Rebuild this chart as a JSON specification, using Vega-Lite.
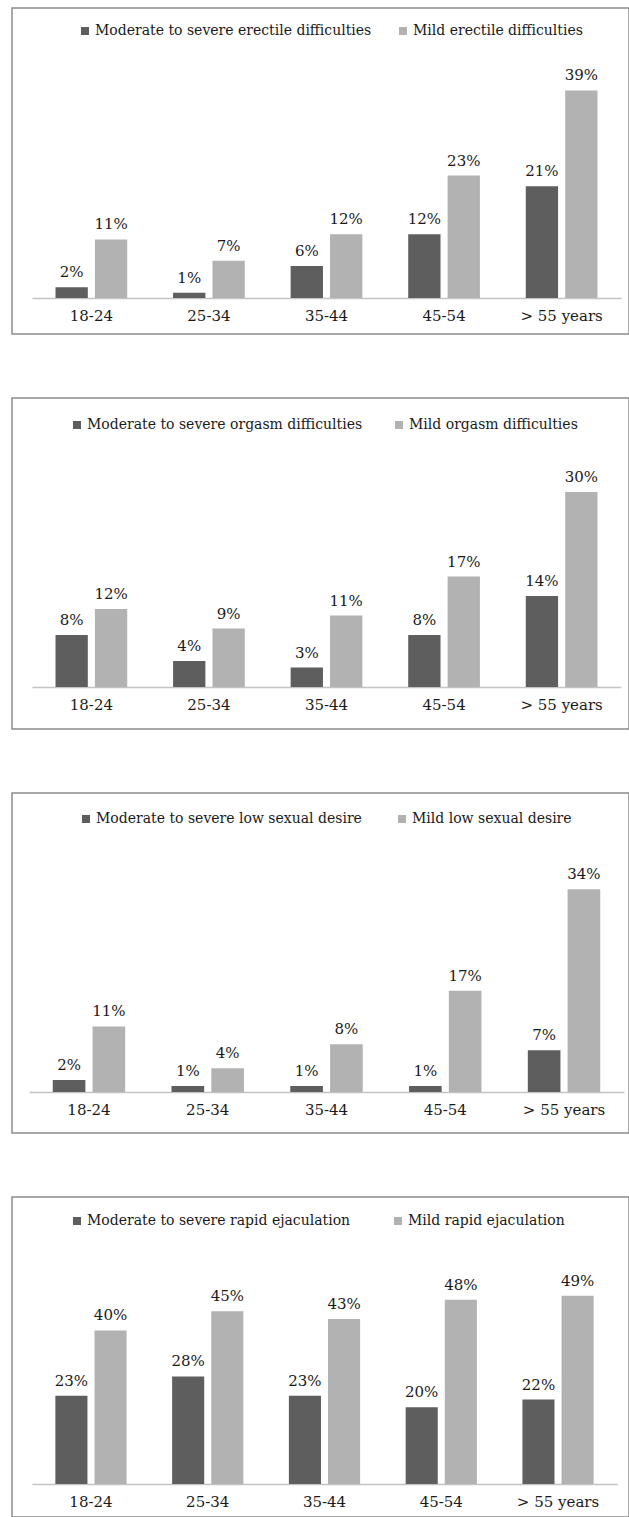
{
  "$schema": "https://vega.github.io/schema/vega-lite/v6.json",
  "padding": {"left": 11, "top": 7, "right": 0, "bottom": 0},
  "bounds": "flush",
  "spacing": 64,
  "background": "white",
  "datasets": {
    "p1": [
      {"age": "18-24", "sev": "Moderate to severe erectile difficulties", "v": 2},
      {"age": "25-34", "sev": "Moderate to severe erectile difficulties", "v": 1},
      {"age": "35-44", "sev": "Moderate to severe erectile difficulties", "v": 6},
      {"age": "45-54", "sev": "Moderate to severe erectile difficulties", "v": 12},
      {"age": "> 55 years", "sev": "Moderate to severe erectile difficulties", "v": 21},
      {"age": "18-24", "sev": "Mild erectile difficulties", "v": 11},
      {"age": "25-34", "sev": "Mild erectile difficulties", "v": 7},
      {"age": "35-44", "sev": "Mild erectile difficulties", "v": 12},
      {"age": "45-54", "sev": "Mild erectile difficulties", "v": 23},
      {"age": "> 55 years", "sev": "Mild erectile difficulties", "v": 39}
    ],
    "p2": [
      {"age": "18-24", "sev": "Moderate to severe orgasm difficulties", "v": 8},
      {"age": "25-34", "sev": "Moderate to severe orgasm difficulties", "v": 4},
      {"age": "35-44", "sev": "Moderate to severe orgasm difficulties", "v": 3},
      {"age": "45-54", "sev": "Moderate to severe orgasm difficulties", "v": 8},
      {"age": "> 55 years", "sev": "Moderate to severe orgasm difficulties", "v": 14},
      {"age": "18-24", "sev": "Mild orgasm difficulties", "v": 12},
      {"age": "25-34", "sev": "Mild orgasm difficulties", "v": 9},
      {"age": "35-44", "sev": "Mild orgasm difficulties", "v": 11},
      {"age": "45-54", "sev": "Mild orgasm difficulties", "v": 17},
      {"age": "> 55 years", "sev": "Mild orgasm difficulties", "v": 30}
    ],
    "p3": [
      {"age": "18-24", "sev": "Moderate to severe low sexual desire", "v": 2},
      {"age": "25-34", "sev": "Moderate to severe low sexual desire", "v": 1},
      {"age": "35-44", "sev": "Moderate to severe low sexual desire", "v": 1},
      {"age": "45-54", "sev": "Moderate to severe low sexual desire", "v": 1},
      {"age": "> 55 years", "sev": "Moderate to severe low sexual desire", "v": 7},
      {"age": "18-24", "sev": "Mild low sexual desire", "v": 11},
      {"age": "25-34", "sev": "Mild low sexual desire", "v": 4},
      {"age": "35-44", "sev": "Mild low sexual desire", "v": 8},
      {"age": "45-54", "sev": "Mild low sexual desire", "v": 17},
      {"age": "> 55 years", "sev": "Mild low sexual desire", "v": 34}
    ],
    "p4": [
      {"age": "18-24", "sev": "Moderate to severe rapid ejaculation", "v": 23},
      {"age": "25-34", "sev": "Moderate to severe rapid ejaculation", "v": 28},
      {"age": "35-44", "sev": "Moderate to severe rapid ejaculation", "v": 23},
      {"age": "45-54", "sev": "Moderate to severe rapid ejaculation", "v": 20},
      {"age": "> 55 years", "sev": "Moderate to severe rapid ejaculation", "v": 22},
      {"age": "18-24", "sev": "Mild rapid ejaculation", "v": 40},
      {"age": "25-34", "sev": "Mild rapid ejaculation", "v": 45},
      {"age": "35-44", "sev": "Mild rapid ejaculation", "v": 43},
      {"age": "45-54", "sev": "Mild rapid ejaculation", "v": 48},
      {"age": "> 55 years", "sev": "Mild rapid ejaculation", "v": 49}
    ]
  },
  "config": {
    "font": "DejaVu Serif",
    "view": {"stroke": "#8c8c8c", "strokeWidth": 1.5},
    "axis": {"domainColor": "#c4c4c4", "domainWidth": 1.5, "ticks": false, "grid": false, "labelFont": "DejaVu Serif", "labelFontSize": 15, "labelColor": "#1a1a1a", "labelPadding": 10, "labelAngle": 0, "title": null},
    "legend": {"orient": "none", "direction": "horizontal", "title": null, "symbolType": "square", "symbolSize": 64, "symbolStrokeWidth": 0, "labelFont": "DejaVu Serif", "labelFontSize": 14, "labelColor": "#1a1a1a", "labelOffset": 3, "labelLimit": 0, "columnPadding": 36, "padding": 0},
    "text": {"font": "DejaVu Serif", "fontSize": 15, "fill": "#1a1a1a", "baseline": "alphabetic", "dy": -10}
  },
  "resolve": {"scale": {"x": "independent", "y": "independent", "xOffset": "independent", "color": "independent"}, "legend": {"color": "independent"}},
  "vconcat": [
    {
      "width": 617, "height": 326,
      "data": {"name": "p1"},
      "transform": [{"calculate": "datum.v + '%'", "as": "lab"}],
      "encoding": {
        "x": {"field": "age", "type": "nominal", "sort": ["18-24", "25-34", "35-44", "45-54", "> 55 years"], "scale": {"range": [20, 609], "paddingInner": 0.39, "paddingOuter": 0.2}, "axis": {"offset": -36}},
        "xOffset": {"field": "sev", "type": "nominal", "sort": ["Moderate to severe erectile difficulties", "Mild erectile difficulties"], "scale": {"paddingInner": 0.18, "paddingOuter": 0}},
        "y": {"field": "v", "type": "quantitative", "scale": {"domain": [-6.77, 54.5], "nice": false, "zero": false}, "axis": null}
      },
      "layer": [
        {"mark": {"type": "bar"}, "encoding": {"y2": {"datum": 0}, "color": {"field": "sev", "type": "nominal", "scale": {"domain": ["Moderate to severe erectile difficulties", "Mild erectile difficulties"], "range": ["#5e5e5e", "#b2b2b2"]}, "legend": {"legendX": 66, "legendY": 16, "columnPadding": 24}}}},
        {"mark": {"type": "text"}, "encoding": {"text": {"field": "lab", "type": "nominal"}}}
      ]
    },
    {
      "width": 617, "height": 331,
      "data": {"name": "p2"},
      "transform": [{"calculate": "datum.v + '%'", "as": "lab"}],
      "encoding": {
        "x": {"field": "age", "type": "nominal", "sort": ["18-24", "25-34", "35-44", "45-54", "> 55 years"], "scale": {"range": [20, 609], "paddingInner": 0.39, "paddingOuter": 0.2}, "axis": {"offset": -42}},
        "xOffset": {"field": "sev", "type": "nominal", "sort": ["Moderate to severe orgasm difficulties", "Mild orgasm difficulties"], "scale": {"paddingInner": 0.18, "paddingOuter": 0}},
        "y": {"field": "v", "type": "quantitative", "scale": {"domain": [-6.46, 44.46], "nice": false, "zero": false}, "axis": null}
      },
      "layer": [
        {"mark": {"type": "bar"}, "encoding": {"y2": {"datum": 0}, "color": {"field": "sev", "type": "nominal", "scale": {"domain": ["Moderate to severe orgasm difficulties", "Mild orgasm difficulties"], "range": ["#5e5e5e", "#b2b2b2"]}, "legend": {"legendX": 58, "legendY": 20, "columnPadding": 29}}}},
        {"mark": {"type": "text"}, "encoding": {"text": {"field": "lab", "type": "nominal"}}}
      ]
    },
    {
      "width": 617, "height": 340,
      "data": {"name": "p3"},
      "transform": [{"calculate": "datum.v + '%'", "as": "lab"}],
      "encoding": {
        "x": {"field": "age", "type": "nominal", "sort": ["18-24", "25-34", "35-44", "45-54", "> 55 years"], "scale": {"range": [17, 612], "paddingInner": 0.39, "paddingOuter": 0.2}, "axis": {"offset": -41}},
        "xOffset": {"field": "sev", "type": "nominal", "sort": ["Moderate to severe low sexual desire", "Mild low sexual desire"], "scale": {"paddingInner": 0.18, "paddingOuter": 0}},
        "y": {"field": "v", "type": "quantitative", "scale": {"domain": [-6.88, 50.17], "nice": false, "zero": false}, "axis": null}
      },
      "layer": [
        {"mark": {"type": "bar"}, "encoding": {"y2": {"datum": 0}, "color": {"field": "sev", "type": "nominal", "scale": {"domain": ["Moderate to severe low sexual desire", "Mild low sexual desire"], "range": ["#5e5e5e", "#b2b2b2"]}, "legend": {"legendX": 67, "legendY": 19, "columnPadding": 33}}}},
        {"mark": {"type": "text"}, "encoding": {"text": {"field": "lab", "type": "nominal"}}}
      ]
    },
    {
      "width": 617, "height": 320,
      "data": {"name": "p4"},
      "transform": [{"calculate": "datum.v + '%'", "as": "lab"}],
      "encoding": {
        "x": {"field": "age", "type": "nominal", "sort": ["18-24", "25-34", "35-44", "45-54", "> 55 years"], "scale": {"range": [20, 605], "paddingInner": 0.39, "paddingOuter": 0.2}, "axis": {"offset": -33}},
        "xOffset": {"field": "sev", "type": "nominal", "sort": ["Moderate to severe rapid ejaculation", "Mild rapid ejaculation"], "scale": {"paddingInner": 0.18, "paddingOuter": 0}},
        "y": {"field": "v", "type": "quantitative", "scale": {"domain": [-8.59, 74.74], "nice": false, "zero": false}, "axis": null}
      },
      "layer": [
        {"mark": {"type": "bar"}, "encoding": {"y2": {"datum": 0}, "color": {"field": "sev", "type": "nominal", "scale": {"domain": ["Moderate to severe rapid ejaculation", "Mild rapid ejaculation"], "range": ["#5e5e5e", "#b2b2b2"]}, "legend": {"legendX": 58, "legendY": 17, "columnPadding": 40}}}},
        {"mark": {"type": "text"}, "encoding": {"text": {"field": "lab", "type": "nominal"}}}
      ]
    }
  ]
}
